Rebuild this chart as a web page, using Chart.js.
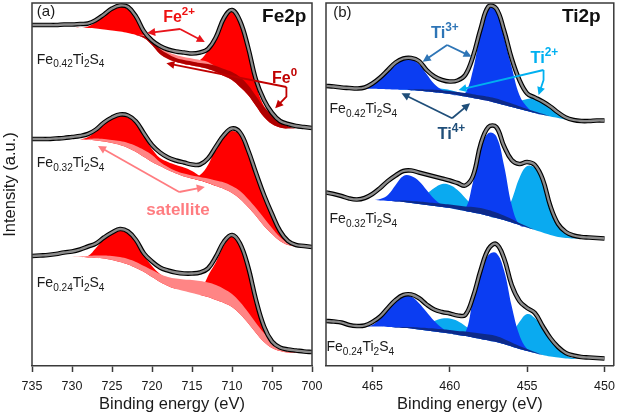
<!DOCTYPE html>
<html><head><meta charset="utf-8">
<script src="https://cdn.jsdelivr.net/npm/chart.js@4.4.1/dist/chart.umd.min.js"></script>
<style>
html,body{margin:0;padding:0;background:#fff;}
#wrap{position:relative;width:622px;height:416px;overflow:hidden;background:#fff;}
canvas{position:absolute;top:0;}
#cFe{left:0;} #cTi{left:300px;}
</style></head><body>
<div id="wrap"><canvas id="cTi" width="322" height="416"></canvas><canvas id="cFe" width="340" height="416"></canvas></div>
<script>
const FONT = "'Liberation Sans', Arial, Helvetica, sans-serif";

// ---------- Fe 2p (binding energy, eV) ----------
const feEnergy = [735,734,733,732,731,730,729,728,727,726,725,724,723,722,721,720,719,718,717,716,715,714,713,712,711,710,709,708,707,706,705,704,703,702,701,700];
const feTicks = [735,730,725,720,715,710,705,700];
const feOffsets = [237.5, 119, 13];   // vertical stacking offsets of the three spectra
const feSamples = ['0.42','0.32','0.24'];

// Fe0.42Ti2S4
const fe42Env  = [103.5,103.5,103.5,103.5,104,104,104.5,105,108.5,114,120,123,121.5,112,97,88,82.5,79,77,76,75,76,79.5,91.5,110.5,118.5,107.5,81.5,48.5,28.5,15.5,7.5,4.5,2.5,1.5,0.5];
const fe42Base = [102.5,102.5,102.5,102,102,101.5,101,100.5,100,99,98,97,95.5,93.5,90.5,83.5,74.5,69.5,66.5,64.5,63,61.5,59.5,56.5,52.5,48.5,41.5,33.5,22.5,11.5,4.5,1,0,0,0,0];
const fe42P1   = [null,null,null,null,null,101.5,101,102,106.5,112.5,118.5,122,119,110.5,95.5,86.5,75.5,69.5,null,null,null,null,null,null,null,null,null,null,null,null,null,null,null,null,null,null];
const fe42P3   = [null,null,null,null,null,null,null,null,null,null,null,null,null,null,null,null,null,null,null,64.5,65,68.5,77.5,89.5,108.5,116.5,105.5,76.5,43.5,22.5,12.5,2.5,0,null,null,null];
const fe42Sat  = [null,null,null,null,null,null,null,null,null,null,null,null,null,93.5,93.5,89.5,81.5,76.5,73.5,71.5,70,68.5,66.5,61.5,56.5,51.5,43.5,33.5,null,null,null,null,null,null,null,null];
const fe42Fe0  = [null,null,null,null,null,null,null,null,null,null,null,null,null,93.5,92.5,87.5,79.5,74.5,70.5,68.5,67,65.5,64.5,62.5,59.5,56.5,51.5,43.5,32.5,21.5,14.5,8.5,2.5,0,null,null];

// Fe0.32Ti2S4
const fe32Env  = [108,108,108,108.5,109,110,111,113,117.5,124.5,129.5,132.5,131.5,125.5,113.5,102,94.5,89.5,86.5,84.5,82.5,82.5,88.5,100.5,112,118.5,114.5,97,74,52,33,16,6,2,1,0];
const fe32Base = [107.5,107.5,107.5,107.5,107.5,107.5,107.5,107,106.5,105.5,104,102,99,95,90,85,81,77,73.5,70.5,68.5,66.5,64,61,58,54,48,40,31,21,13,6,2,0.5,0,0];
const fe32P1   = [null,null,null,null,null,null,107.5,110,116,123,128.5,131,129.5,123,111,98,89,85,82,79.5,76,71,67,61,null,null,null,null,null,null,null,null,null,null,null,null];
const fe32P3   = [null,null,null,null,null,null,null,null,null,null,null,null,null,null,null,null,null,null,null,70.5,69,72,82,99,111,116,112,96,74,51,32,16,6,2,0.5,0];
const fe32Sat  = [null,null,null,null,null,null,107.5,108,108.5,108,107,106,104,101,97,92,85,80,76,73.5,71.5,70,68.5,66.5,64.5,61,56,48,39,29,19,10,4,1,0,null];

// Fe0.24Ti2S4
const fe24Env  = [97,97.5,98,99,100.5,101.5,103.5,106.5,109.5,115.5,120.5,124,121.5,113,99.5,91.5,85.5,82.5,80.5,79.5,79.5,80.5,84.5,96.5,111.5,118,109.5,86.5,53,26.5,11.5,5.5,3.5,2.5,1.5,1];
const fe24Base = [96,96,96,96,96,96,96,95.5,95,94.5,93,91,88.5,85,81,76,71,67,64,62,60,58,56,53,50,46,39,30,20,11,5,2,0.5,0,0,0];
const fe24P1   = [null,null,null,null,null,null,96,97,105,114,119.5,122,120,111.5,98,87,79,74,64,null,null,null,null,null,null,null,null,null,null,null,null,null,null,null,null,null];
const fe24P3   = [null,null,null,null,null,null,null,null,null,null,null,null,null,null,null,null,null,null,null,null,null,58,77,91,108,116.5,109,86,53,27,12,5.5,2.5,0.5,0,null];
const fe24Sat  = [null,null,null,null,null,96,96.5,97,97.5,97.5,97,96,94,91,87,83,79,76,74.5,73.5,73,72,70.5,68,64,59,51,41,30,20,12,7,3,0.5,0,null];

// ---------- Ti 2p ----------
const tiEnergy = [468,467.5,467,466.5,466,465.5,465,464.5,464,463.5,463,462.5,462,461.5,461,460.5,460,459.5,459,458.5,458,457.5,457,456.5,456,455.5,455,454.5,454,453.5,453,452.5,452,451.5,451,450.5,450];
const tiTicks = [465,460,455,450];
const tiOffsets = [245, 127, 7];

// Fe0.42Ti2S4
const ti42Env  = [35,34.5,33.5,33,32.5,33.5,37.5,43.5,51,58.5,62.5,63,60,51,44.5,41,39.5,40.5,46,64.5,92.5,114.5,112.5,91,62.5,41,27.5,23.5,19.5,14.5,8.5,3.5,1,0,0,0.5,0.5];
const ti42Base = [34.5,33.8,33.2,32.5,32.2,32.2,32.2,32,31.8,31.5,31.2,30.7,30.2,29.5,28.8,28,27,25.8,24.5,23,21.5,20,18,16,14,12,10,8,6.2,4.5,3,1.5,0.5,0,0,0,0];
const ti42T3   = [null,null,null,null,null,32.2,35.5,42.5,50,57.5,61.5,61.5,57,47,37,31,27,25.8,28,51,89,112.5,111,84,54,26,14,8,6.2,4.5,3,1.5,0.5,0,null,null,null];
const ti42T2   = [null,null,null,null,null,null,null,null,null,31.5,31.7,32.2,32.5,32.7,32.7,32.2,31,29,26.5,23.5,21.5,20,18.5,18,18.5,20,22,23,21,16.5,10,4,1,0,null,null,null];
const ti42T4   = [null,null,null,null,null,null,null,null,null,null,31.2,31.5,31.7,31.5,31.3,30.8,30,29,28,26.8,25.5,24.2,22.5,20,17.5,14.8,12,9.5,7.2,4.5,null,null,null,null,null,null,null];

// Fe0.32Ti2S4
const ti32Env  = [46.5,45,43,40.5,39.5,41,45,51,58,63.5,68,68.5,66.5,64.5,62.5,60.5,58.5,56,53.5,63,95,112,112,93,79,75,77,74,60,33,15,7,3.5,2,1.5,1,0.5];
const ti32Base = [46,44.5,42.5,40,39,39,39,38.5,38,37.5,37,36,35,34,33,32,31,29.5,28,26.5,25,23,21,19,16.5,14,11.5,9,6.5,4,2,1,0.5,0,0,0,0];
const ti32T3   = [null,null,null,null,null,39,39,40,44,54,63,63,58,49,40,34,31,29.5,30,57,90,106,103,74,34,14,11.5,9,6.5,4,2,1,0.5,0,null,null,null];
const ti32T2   = [null,null,null,null,null,null,null,null,null,null,37,36,39,45,51,55,54,49,41,33,27,23,21,24,39,61,73,71,57,31,13,6,2,0,null,null,null];
const ti32T4   = [null,null,null,null,null,null,null,null,38,38.3,38.5,38,37.5,36.8,36,35.3,34.5,33.5,32.5,32,31,29,26.5,23.5,20,16,12.5,9,null,null,null,null,null,null,null,null,null];

// Fe0.24Ti2S4
const ti24Env  = [38,37.5,36.5,34,33,33.5,37,42.5,51,59,64,64.5,61,54.5,49.5,47,45.5,43.5,44,62,89,110,115,101,74,58,51,46,33,21,12,6,3.5,2,1.5,1,0.5];
const ti24Base = [37.5,37,36,33.5,32.5,32.5,32.5,32.5,32,31.5,31,30.5,29.5,28.5,27.5,26.5,25.5,24,23,21.5,20,18.5,17,15,12.5,10,8,6,4,2.5,1.5,0.5,0,0,0,0,0];
const ti24T3   = [null,null,null,null,null,32.5,34,41,51,59.5,63.5,62.5,56,47,38,31,26,24,26,59,87,104,106,89,53,24,10,6,4,2.5,1.5,0.5,null,null,null,null,null];
const ti24T2   = [null,null,null,null,null,null,null,null,null,null,null,30.5,32,34.5,38,40.5,40.5,38,33,27,22,18.5,17,18,25,37,45,41,31,19,10,4,1,0,null,null,null];
const ti24T4   = [null,null,null,null,null,null,null,null,32,32,32,32,31.5,31,30.5,29.7,29,28,27.5,26.5,25.5,24.5,23,20,16.5,13,10,7,4,null,null,null,null,null,null,null,null];

// ---------- colours ----------
const C = {fe2:'#ff0000', sat:'#ff8585', fe0:'#b00000', ti3:'#0b3df2', ti2:'#0aaaf0', ti4:'#0d2a8a',
           data:'#000000', fit:'#8c8c8c', axis:'#3a3a3a', text:'#1a1a1a'};

function pts(E, vals, off){ return E.map((x,i)=>({x:x, y: vals[i]==null ? null : vals[i]+off})); }

function addSpectrum(list, E, off, env, base, comps){
  const bi = list.length;
  list.push({data:pts(E,base,off), borderWidth:0, pointRadius:0, fill:false, order:10, tension:0.4});
  comps.forEach(c => list.push({data:pts(E,c.v,off), borderWidth:0, borderColor:c.color, pointRadius:0,
       backgroundColor:c.color, fill:bi, order:c.order, tension:0.4, spanGaps:false}));
  // measured points (black) and fitted envelope (grey)
  list.push({data:pts(E,env,off), borderColor:C.data, borderWidth:4.6, pointRadius:0, fill:false, order:3, tension:0.4});
  list.push({data:pts(E,env,off), borderColor:C.fit, borderWidth:2.3, pointRadius:0, fill:false, order:2, tension:0.4});
}

const feSets = [];
addSpectrum(feSets, feEnergy, feOffsets[0], fe42Env, fe42Base, [
  {v:fe42P1, color:C.fe2, order:9},{v:fe42P3, color:C.fe2, order:9},
  {v:fe42Sat, color:C.sat, order:8},{v:fe42Fe0, color:C.fe0, order:7}]);
addSpectrum(feSets, feEnergy, feOffsets[1], fe32Env, fe32Base, [
  {v:fe32P1, color:C.fe2, order:9},{v:fe32P3, color:C.fe2, order:9},{v:fe32Sat, color:C.sat, order:8}]);
addSpectrum(feSets, feEnergy, feOffsets[2], fe24Env, fe24Base, [
  {v:fe24P1, color:C.fe2, order:9},{v:fe24P3, color:C.fe2, order:9},{v:fe24Sat, color:C.sat, order:8}]);

const tiSets = [];
addSpectrum(tiSets, tiEnergy, tiOffsets[0], ti42Env, ti42Base, [
  {v:ti42T2, color:C.ti2, order:9},{v:ti42T3, color:C.ti3, order:8},{v:ti42T4, color:C.ti4, order:7}]);
addSpectrum(tiSets, tiEnergy, tiOffsets[1], ti32Env, ti32Base, [
  {v:ti32T2, color:C.ti2, order:9},{v:ti32T3, color:C.ti3, order:8},{v:ti32T4, color:C.ti4, order:7}]);
addSpectrum(tiSets, tiEnergy, tiOffsets[2], ti24Env, ti24Base, [
  {v:ti24T2, color:C.ti2, order:9},{v:ti24T3, color:C.ti3, order:8},{v:ti24T4, color:C.ti4, order:7}]);

// ---------- rich text + arrows plugin ----------
function sampleSegs(x){ return [{s:'Fe'},{s:x,k:'sub'},{s:'Ti'},{s:'2',k:'sub'},{s:'S'},{s:'4',k:'sub'}]; }
function drawRich(ctx, t, x, y){
  const F = t.size, w = t.bold ? 'bold ' : '';
  const parts = t.segs.map(sg => {
    const sz = sg.k ? F*0.72 : F;
    const dy = sg.k==='sub' ? F*0.28 : (sg.k==='sup' ? -F*0.42 : 0);
    const font = w + sz.toFixed(2) + 'px ' + FONT;
    ctx.font = font;
    return {s:sg.s, font:font, dy:dy, w:ctx.measureText(sg.s).width};
  });
  const tot = parts.reduce((a,p)=>a+p.w,0);
  let cx = t.align==='center' ? x-tot/2 : (t.align==='right' ? x-tot : x);
  ctx.fillStyle = t.color || C.text; ctx.textAlign = 'left'; ctx.textBaseline = t.baseline || 'alphabetic';
  parts.forEach(p => { ctx.font = p.font; ctx.fillText(p.s, cx, y+p.dy); cx += p.w; });
}
const annotPlugin = {
  id:'annot',
  afterDraw(chart, args, o){
    const ctx = chart.ctx, a = chart.chartArea, xs = chart.scales.x, ys = chart.scales.y;
    const X = e => xs.getPixelForValue(e), Y = v => ys.getPixelForValue(v);
    ctx.save();
    ctx.strokeStyle = C.axis; ctx.lineWidth = 1.5;
    ctx.beginPath(); ctx.moveTo(a.left, a.bottom); ctx.lineTo(a.left, a.top);
    ctx.lineTo(a.right, a.top); ctx.lineTo(a.right, a.bottom); ctx.stroke();
    (o.arrows||[]).forEach(ar => {
      const p = ar.pts.map(q => [X(q[0]), Y(q[1])]);
      ctx.strokeStyle = ar.color; ctx.fillStyle = ar.color; ctx.lineWidth = 1.8;
      const n = p.length, [x1,y1] = p[n-2], [x2,y2] = p[n-1];
      const ang = Math.atan2(y2-y1, x2-x1), L = 8, W = 4;
      ctx.beginPath(); ctx.moveTo(p[0][0], p[0][1]);
      for (let i=1;i<n-1;i++) ctx.lineTo(p[i][0], p[i][1]);
      ctx.lineTo(x2 - (L-2)*Math.cos(ang), y2 - (L-2)*Math.sin(ang)); ctx.stroke();
      ctx.beginPath(); ctx.moveTo(x2, y2);
      ctx.lineTo(x2 - L*Math.cos(ang) + W*Math.sin(ang), y2 - L*Math.sin(ang) - W*Math.cos(ang));
      ctx.lineTo(x2 - L*Math.cos(ang) - W*Math.sin(ang), y2 - L*Math.sin(ang) + W*Math.cos(ang));
      ctx.closePath(); ctx.fill();
    });
    (o.texts||[]).forEach(t => drawRich(ctx, t, X(t.E), Y(t.v)));
    if (o.ytitle){
      ctx.translate(a.left-22, (a.top+a.bottom)/2); ctx.rotate(-Math.PI/2);
      ctx.font = '16.5px ' + FONT; ctx.fillStyle = C.text; ctx.textAlign = 'center'; ctx.textBaseline = 'middle';
      ctx.fillText(o.ytitle, 0, 0);
    }
    ctx.restore();
  }
};

function makeChart(id, datasets, xmin, xmax, ticks, pad, ann){
  return new Chart(document.getElementById(id), {
    type:'line',
    data:{datasets:datasets},
    options:{
      responsive:false, animation:false, devicePixelRatio:1,
      layout:{padding:pad},
      plugins:{legend:{display:false}, tooltip:{enabled:false}, annot:ann},
      scales:{
        x:{type:'linear', reverse:true, min:xmin, max:xmax,
           afterBuildTicks: s => { s.ticks = ticks.map(v => ({value:v})); },
           afterFit: s => { s.height = 49; },
           ticks:{color:C.text, font:{family:FONT, size:12.5}, padding:7, maxRotation:0, autoSkip:false},
           grid:{display:true, drawOnChartArea:false, drawTicks:true, tickLength:6, tickColor:C.axis, tickWidth:1.5},
           border:{display:true, color:C.axis, width:1.5},
           title:{display:true, text:'Binding energy (eV)', color:C.text, font:{family:FONT, size:16.5}, padding:{top:0, bottom:1}}},
        y:{display:false, min:0, max:363}
      }
    },
    plugins:[annotPlugin]
  });
}

makeChart('cFe', feSets, 700, 735, feTicks, {left:32, right:28, top:3, bottom:1}, {
  ytitle:'Intensity (a.u.)',
  texts:[
    {segs:[{s:'(a)'}], E:734.4, v:354, size:15, baseline:'middle'},
    {segs:[{s:'Fe2p'}], E:700.7, v:349, size:19, bold:true, align:'right', baseline:'middle', color:'#111'},
    {segs:[{s:'Fe'},{s:'2+',k:'sup'}], E:718.6, v:344, size:16, bold:true, color:'#ee1111'},
    {segs:[{s:'Fe'},{s:'0',k:'sup'}], E:705, v:283, size:16, bold:true, color:'#c00000'},
    {segs:[{s:'satellite'}], E:716.75, v:151, size:17, bold:true, align:'center', color:'#ff7c80'},
    {segs:sampleSegs(feSamples[0]), E:734.4, v:302.5, size:14},
    {segs:sampleSegs(feSamples[1]), E:734.4, v:199.3, size:14},
    {segs:sampleSegs(feSamples[2]), E:734.4, v:78.7, size:14}
  ],
  arrows:[
    {color:'#e8141b', pts:[[716.5,337],[720.6,333]]},
    {color:'#e8141b', pts:[[716.5,337],[713.4,324]]},
    {color:'#c00000', pts:[[703.2,279],[718.2,302.7]]},
    {color:'#c00000', pts:[[703.2,279],[703.2,269.3],[704.6,257.7]]},
    {color:'#ff7c80', pts:[[716.6,174],[726.75,220]]},
    {color:'#ff7c80', pts:[[716.6,174],[713.4,179]]}
  ]
});

makeChart('cTi', tiSets, 449.4, 468, tiTicks, {left:26, right:2, top:3, bottom:1}, {
  texts:[
    {segs:[{s:'(b)'}], E:467.53, v:353, size:15, baseline:'middle'},
    {segs:[{s:'Ti2p'}], E:450.25, v:349, size:19, bold:true, align:'right', baseline:'middle', color:'#111'},
    {segs:[{s:'Ti'},{s:'3+',k:'sup'}], E:461.22, v:328.5, size:16.5, bold:true, color:'#2e75b6'},
    {segs:[{s:'Ti'},{s:'2+',k:'sup'}], E:454.79, v:303, size:16.5, bold:true, color:'#00b0f0'},
    {segs:[{s:'Ti'},{s:'4+',k:'sup'}], E:460.8, v:226.7, size:16.5, bold:true, color:'#1f4e79'},
    {segs:sampleSegs(feSamples[0]), E:467.77, v:252.7, size:14},
    {segs:sampleSegs(feSamples[1]), E:467.77, v:142.7, size:14},
    {segs:sampleSegs(feSamples[2]), E:467.97, v:15, size:14}
  ],
  arrows:[
    {color:'#2e75b6', pts:[[460.17,321],[461.75,304.3]]},
    {color:'#2e75b6', pts:[[460.17,321],[458.59,309.3]]},
    {color:'#00b0f0', pts:[[453.94,296],[459.43,276]]},
    {color:'#00b0f0', pts:[[453.94,296],[453.94,286],[454.26,271]]},
    {color:'#1f4e79', pts:[[459.85,247.7],[463.12,272.7]]},
    {color:'#1f4e79', pts:[[459.85,247.7],[458.69,262.7]]}
  ]
});
</script>
</body></html>
